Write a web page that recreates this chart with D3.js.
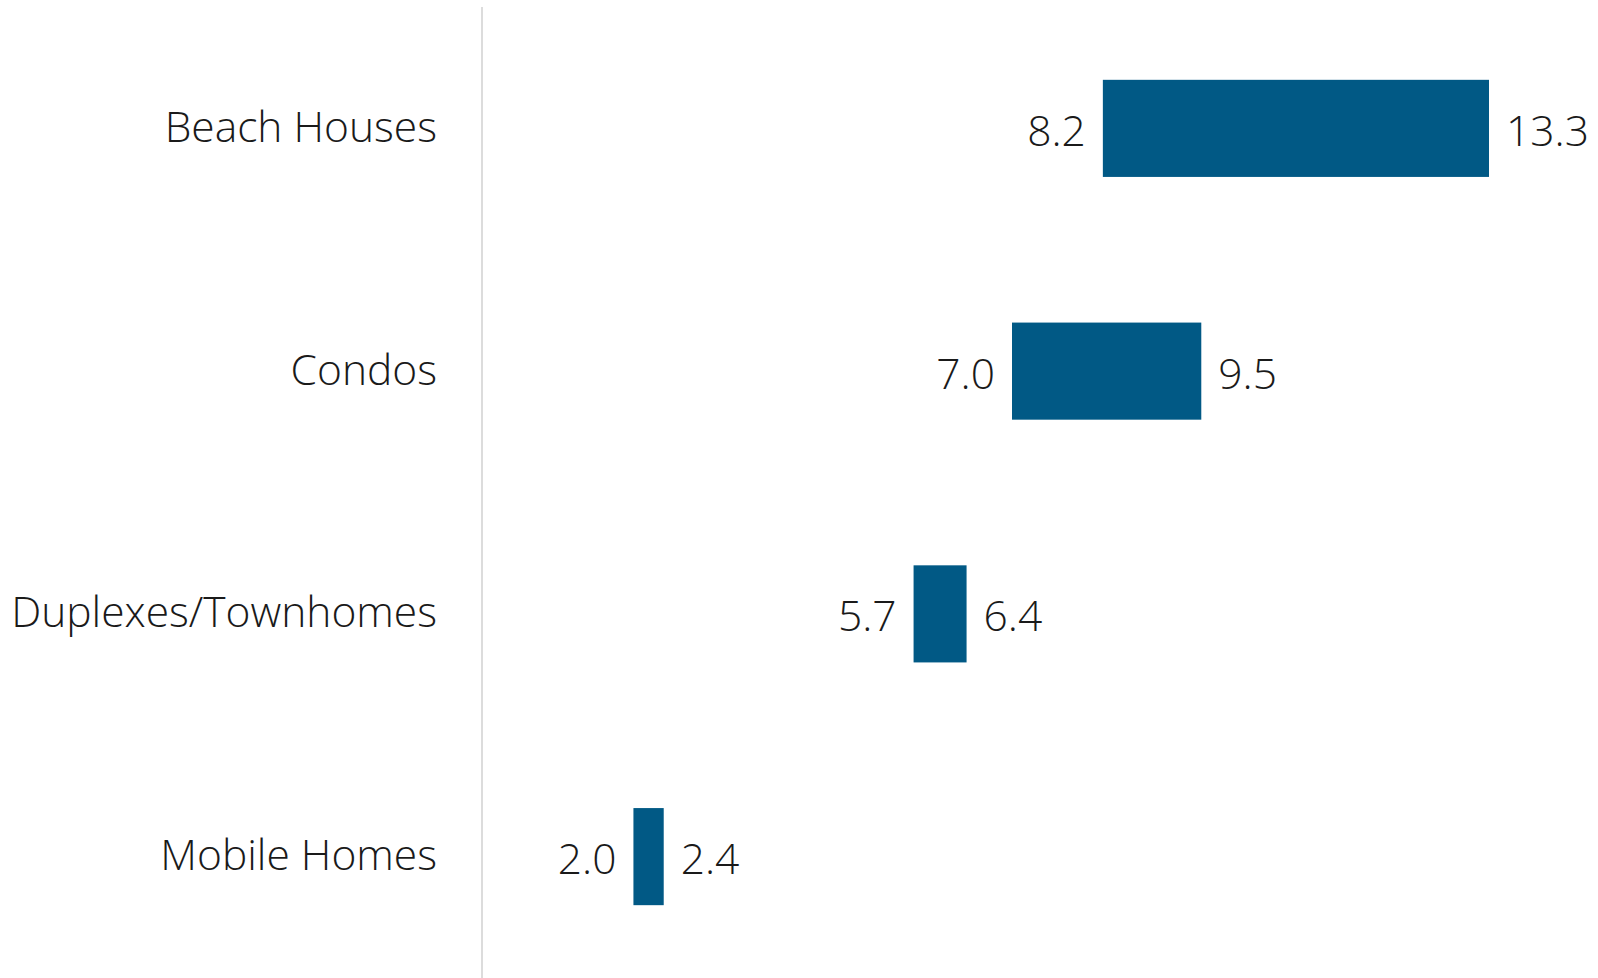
<!DOCTYPE html>
<html>
<head>
<meta charset="utf-8">
<script src="https://cdn.jsdelivr.net/npm/d3@7"></script>
<style>
  html, body { margin: 0; padding: 0; background: #fff; }
  svg text { font-family: "Open Sans", sans-serif; font-weight: 300; fill: #1a1a1a; }
</style>
</head>
<body>
<svg id="chart" width="1598" height="978"></svg>
<script>
// range bars: low / high per property type
var categories = ["Beach Houses", "Condos", "Duplexes/Townhomes", "Mobile Homes"];
var lowValues  = [8.2, 7.0, 5.7, 2.0];
var highValues = [13.3, 9.5, 6.4, 2.4];

var data = categories.map(function(c, i) {
  return { name: c, low: lowValues[i], high: highValues[i] };
});

var svg = d3.select("#chart");
var width = 1598, height = 978;
var axisX = 482;
var fontSize = 42.5;

var x = d3.scaleLinear()
  .domain([0, d3.max(highValues)])
  .range([axisX, 1489]);

var y = d3.scaleBand()
  .domain(categories)
  .range([7, height])
  .paddingInner(0.6)
  .paddingOuter(0.3);

// vertical baseline
svg.append("line")
  .attr("x1", axisX).attr("x2", axisX)
  .attr("y1", 7).attr("y2", height)
  .attr("stroke", "#dcdcdc")
  .attr("stroke-width", 2);

var rows = svg.selectAll(".row").data(data)
  .enter().append("g").attr("class", "row");

rows.append("rect")
  .attr("x", function(d) { return x(d.low); })
  .attr("y", function(d) { return y(d.name); })
  .attr("width", function(d) { return x(d.high) - x(d.low); })
  .attr("height", y.bandwidth())
  .attr("fill", "#015985");

var mid = function(d) { return y(d.name) + y.bandwidth() / 2; };

rows.append("text")
  .attr("x", axisX - 45)
  .attr("y", function(d) { return mid(d) + 13.5; })
  .attr("text-anchor", "end")
  .attr("font-size", fontSize)
  .text(function(d) { return d.name; });

rows.append("text")
  .attr("x", function(d) { return x(d.low) - 17; })
  .attr("y", function(d) { return mid(d) + 17.5; })
  .attr("text-anchor", "end")
  .attr("font-size", fontSize)
  .text(function(d) { return d.low.toFixed(1); });

rows.append("text")
  .attr("x", function(d) { return x(d.high) + 17; })
  .attr("y", function(d) { return mid(d) + 17.5; })
  .attr("text-anchor", "start")
  .attr("font-size", fontSize)
  .text(function(d) { return d.high.toFixed(1); });
</script>
</body>
</html>
